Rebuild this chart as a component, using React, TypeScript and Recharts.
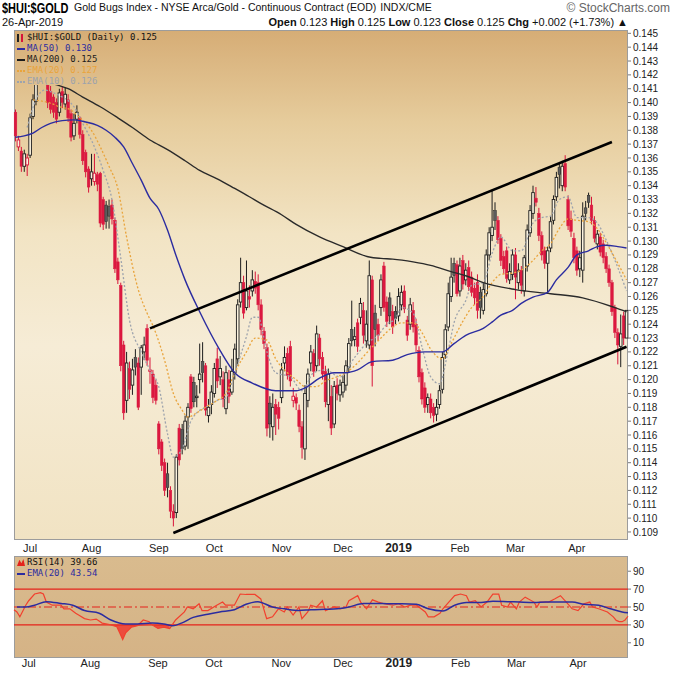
import React from 'react';
import { ComposedChart, Bar, Line, Area, XAxis, YAxis, ReferenceLine } from 'recharts';

// daily bars, late Jun 2018 .. 26-Apr-2019 ($HUI:$GOLD ratio)
const opens = [
  0.1393, 0.1368, 0.1365, 0.1354, 0.1355, 0.1362, 0.1390, 0.1401, 0.1420, 0.1428,
  0.1432, 0.1414, 0.1408, 0.1404, 0.1400, 0.1393, 0.1408, 0.1399, 0.1402, 0.1392,
  0.1376, 0.1388, 0.1389, 0.1377, 0.1364, 0.1352, 0.1345, 0.1343, 0.1348, 0.1349,
  0.1330, 0.1326, 0.1325, 0.1326, 0.1315, 0.1285, 0.1268, 0.1225, 0.1185, 0.1208,
  0.1196, 0.1216, 0.1212, 0.1209, 0.1220, 0.1237, 0.1206, 0.1204, 0.1196, 0.1168,
  0.1155, 0.1140, 0.1132, 0.1120, 0.1105, 0.1104, 0.1165, 0.1164, 0.1152, 0.1173,
  0.1202, 0.1198, 0.1187, 0.1200, 0.1213, 0.1210, 0.1174, 0.1182, 0.1190, 0.1215,
  0.1202, 0.1200, 0.1179, 0.1200, 0.1191, 0.1205, 0.1215, 0.1256, 0.1270, 0.1252,
  0.1260, 0.1264, 0.1271, 0.1270, 0.1254, 0.1235, 0.1223, 0.1183, 0.1166, 0.1182,
  0.1180, 0.1187, 0.1212, 0.1219, 0.1224, 0.1185, 0.1187, 0.1178, 0.1166, 0.1150,
  0.1185, 0.1212, 0.1219, 0.1210, 0.1230, 0.1216, 0.1206, 0.1182, 0.1188, 0.1168,
  0.1196, 0.1189, 0.1191, 0.1196, 0.1209, 0.1236, 0.1229, 0.1241, 0.1245, 0.1250,
  0.1228, 0.1225, 0.1272, 0.1248, 0.1240, 0.1252, 0.1282, 0.1256, 0.1259, 0.1249,
  0.1249, 0.1246, 0.1254, 0.1264, 0.1243, 0.1240, 0.1250, 0.1240, 0.1221, 0.1205,
  0.1194, 0.1182, 0.1186, 0.1180, 0.1175, 0.1182, 0.1193, 0.1218, 0.1238, 0.1260,
  0.1284, 0.1283, 0.1264, 0.1286, 0.1272, 0.1281, 0.1274, 0.1266, 0.1270, 0.1263,
  0.1250, 0.1262, 0.1290, 0.1304, 0.1322, 0.1315, 0.1302, 0.1289, 0.1293, 0.1272,
  0.1276, 0.1290, 0.1270, 0.1279, 0.1264, 0.1282, 0.1306, 0.1320, 0.1331, 0.1320,
  0.1304, 0.1293, 0.1284, 0.1295, 0.1315, 0.1332, 0.1353, 0.1340, 0.1356, 0.1330,
  0.1316, 0.1302, 0.1293, 0.1280, 0.1279, 0.1324, 0.1333, 0.1326, 0.1315, 0.1298,
  0.1303, 0.1298, 0.1289, 0.1280, 0.1270, 0.1252, 0.1234, 0.1224, 0.1246, 0.1230,
];
const highs = [
  0.1395, 0.1376, 0.1368, 0.1366, 0.1363, 0.1392, 0.1406, 0.1416, 0.1432, 0.1440,
  0.1436, 0.1416, 0.1412, 0.1406, 0.1403, 0.1410, 0.1412, 0.1411, 0.1406, 0.1395,
  0.1392, 0.1398, 0.1390, 0.1380, 0.1366, 0.1354, 0.1363, 0.1363, 0.1350, 0.1350,
  0.1332, 0.1329, 0.1330, 0.1330, 0.1317, 0.1288, 0.1270, 0.1228, 0.1220, 0.1213,
  0.1215, 0.1222, 0.1216, 0.1225, 0.1231, 0.1240, 0.1216, 0.1207, 0.1200, 0.1170,
  0.1157, 0.1143, 0.1140, 0.1123, 0.1110, 0.1146, 0.1168, 0.1168, 0.1174, 0.1183,
  0.1204, 0.1202, 0.1196, 0.1226, 0.1227, 0.1212, 0.1186, 0.1196, 0.1212, 0.1223,
  0.1217, 0.1206, 0.1210, 0.1207, 0.1215, 0.1226, 0.1258, 0.1288, 0.1275, 0.1286,
  0.1268, 0.1279, 0.1278, 0.1276, 0.1258, 0.1238, 0.1226, 0.1188, 0.1190, 0.1186,
  0.1184, 0.1212, 0.1224, 0.1223, 0.1228, 0.1194, 0.1190, 0.1182, 0.1170, 0.1196,
  0.1208, 0.1225, 0.1222, 0.1239, 0.1233, 0.1220, 0.1210, 0.1208, 0.1196, 0.1199,
  0.1201, 0.1200, 0.1203, 0.1214, 0.1230, 0.1257, 0.1238, 0.1244, 0.1259, 0.1256,
  0.1250, 0.1286, 0.1275, 0.1254, 0.1244, 0.1276, 0.1285, 0.1260, 0.1263, 0.1254,
  0.1253, 0.1266, 0.1268, 0.1268, 0.1246, 0.1259, 0.1256, 0.1244, 0.1224, 0.1208,
  0.1198, 0.1190, 0.1190, 0.1183, 0.1186, 0.1196, 0.1220, 0.1240, 0.1270, 0.1288,
  0.1288, 0.1286, 0.1288, 0.1290, 0.1284, 0.1286, 0.1278, 0.1270, 0.1276, 0.1267,
  0.1270, 0.1294, 0.1310, 0.1337, 0.1328, 0.1318, 0.1305, 0.1293, 0.1296, 0.1284,
  0.1294, 0.1295, 0.1284, 0.1282, 0.1290, 0.1312, 0.1326, 0.1340, 0.1339, 0.1324,
  0.1307, 0.1296, 0.1296, 0.1318, 0.1333, 0.1350, 0.1356, 0.1358, 0.1362, 0.1333,
  0.1322, 0.1306, 0.1296, 0.1293, 0.1328, 0.1329, 0.1335, 0.1332, 0.1318, 0.1308,
  0.1306, 0.1301, 0.1292, 0.1283, 0.1272, 0.1254, 0.1237, 0.1247, 0.1249, 0.1250,
];
const lows = [
  0.1372, 0.1365, 0.1350, 0.1350, 0.1347, 0.1360, 0.1388, 0.1398, 0.1418, 0.1424,
  0.1419, 0.1396, 0.1392, 0.1389, 0.1385, 0.1390, 0.1396, 0.1395, 0.1386, 0.1372,
  0.1373, 0.1385, 0.1374, 0.1355, 0.1346, 0.1335, 0.1340, 0.1340, 0.1336, 0.1310,
  0.1308, 0.1309, 0.1309, 0.1312, 0.1277, 0.1269, 0.1206, 0.1171, 0.1176, 0.1186,
  0.1189, 0.1203, 0.1178, 0.1189, 0.1214, 0.1210, 0.1197, 0.1183, 0.1182, 0.1146,
  0.1134, 0.1116, 0.1115, 0.1100, 0.1094, 0.1100, 0.1138, 0.1146, 0.1149, 0.1150,
  0.1176, 0.1180, 0.1180, 0.1190, 0.1198, 0.1174, 0.1169, 0.1175, 0.1187, 0.1194,
  0.1196, 0.1180, 0.1175, 0.1183, 0.1189, 0.1200, 0.1210, 0.1252, 0.1244, 0.1250,
  0.1252, 0.1260, 0.1262, 0.1250, 0.1232, 0.1222, 0.1159, 0.1158, 0.1156, 0.1160,
  0.1164, 0.1183, 0.1206, 0.1200, 0.1195, 0.1180, 0.1178, 0.1162, 0.1143, 0.1142,
  0.1180, 0.1206, 0.1202, 0.1206, 0.1210, 0.1200, 0.1180, 0.1170, 0.1160, 0.1165,
  0.1185, 0.1184, 0.1187, 0.1192, 0.1205, 0.1224, 0.1224, 0.1220, 0.1240, 0.1226,
  0.1223, 0.1222, 0.1195, 0.1224, 0.1228, 0.1246, 0.1249, 0.1238, 0.1240, 0.1233,
  0.1240, 0.1242, 0.1250, 0.1248, 0.1228, 0.1236, 0.1234, 0.1220, 0.1198, 0.1182,
  0.1176, 0.1176, 0.1172, 0.1169, 0.1170, 0.1179, 0.1190, 0.1215, 0.1235, 0.1256,
  0.1270, 0.1260, 0.1260, 0.1265, 0.1268, 0.1264, 0.1260, 0.1254, 0.1244, 0.1244,
  0.1247, 0.1260, 0.1286, 0.1300, 0.1308, 0.1298, 0.1282, 0.1276, 0.1270, 0.1269,
  0.1272, 0.1258, 0.1265, 0.1262, 0.1260, 0.1278, 0.1303, 0.1316, 0.1325, 0.1300,
  0.1286, 0.1280, 0.1262, 0.1292, 0.1312, 0.1329, 0.1338, 0.1336, 0.1336, 0.1308,
  0.1303, 0.1284, 0.1275, 0.1274, 0.1270, 0.1315, 0.1324, 0.1312, 0.1299, 0.1294,
  0.1289, 0.1284, 0.1277, 0.1267, 0.1246, 0.1230, 0.1211, 0.1209, 0.1225, 0.1230,
];
const closes = [
  0.1376, 0.1373, 0.1354, 0.1363, 0.1360, 0.1389, 0.1402, 0.1413, 0.1428, 0.1434,
  0.1422, 0.1400, 0.1395, 0.1393, 0.1388, 0.1407, 0.1400, 0.1406, 0.1389, 0.1375,
  0.1385, 0.1393, 0.1377, 0.1358, 0.1350, 0.1339, 0.1350, 0.1349, 0.1341, 0.1313,
  0.1312, 0.1314, 0.1318, 0.1316, 0.1280, 0.1272, 0.1210, 0.1176, 0.1212, 0.1193,
  0.1207, 0.1209, 0.1180, 0.1223, 0.1225, 0.1214, 0.1207, 0.1187, 0.1185, 0.1150,
  0.1138, 0.1120, 0.1122, 0.1105, 0.1100, 0.1144, 0.1142, 0.1150, 0.1170, 0.1180,
  0.1179, 0.1184, 0.1188, 0.1204, 0.1205, 0.1178, 0.1180, 0.1191, 0.1208, 0.1199,
  0.1208, 0.1186, 0.1205, 0.1188, 0.1206, 0.1222, 0.1254, 0.1270, 0.1248, 0.1264,
  0.1258, 0.1272, 0.1266, 0.1254, 0.1236, 0.1226, 0.1165, 0.1168, 0.1180, 0.1175,
  0.1172, 0.1207, 0.1216, 0.1203, 0.1199, 0.1188, 0.1183, 0.1166, 0.1151, 0.1190,
  0.1204, 0.1220, 0.1206, 0.1233, 0.1215, 0.1204, 0.1184, 0.1204, 0.1165, 0.1195,
  0.1190, 0.1196, 0.1198, 0.1210, 0.1226, 0.1228, 0.1231, 0.1224, 0.1255, 0.1232,
  0.1240, 0.1275, 0.1210, 0.1236, 0.1232, 0.1272, 0.1252, 0.1242, 0.1246, 0.1238,
  0.1244, 0.1260, 0.1263, 0.1251, 0.1232, 0.1254, 0.1238, 0.1225, 0.1202, 0.1186,
  0.1180, 0.1187, 0.1176, 0.1174, 0.1180, 0.1192, 0.1216, 0.1236, 0.1262, 0.1274,
  0.1275, 0.1262, 0.1282, 0.1269, 0.1279, 0.1267, 0.1263, 0.1259, 0.1250, 0.1252,
  0.1265, 0.1290, 0.1306, 0.1310, 0.1315, 0.1301, 0.1286, 0.1280, 0.1273, 0.1278,
  0.1290, 0.1274, 0.1279, 0.1268, 0.1288, 0.1308, 0.1322, 0.1335, 0.1328, 0.1304,
  0.1290, 0.1284, 0.1293, 0.1314, 0.1330, 0.1346, 0.1348, 0.1354, 0.1339, 0.1311,
  0.1307, 0.1288, 0.1279, 0.1288, 0.1318, 0.1320, 0.1328, 0.1315, 0.1302, 0.1305,
  0.1292, 0.1288, 0.1280, 0.1270, 0.1249, 0.1234, 0.1225, 0.1233, 0.1230, 0.1250,
];

// moving averages: [bar index, value]
const ma50Points = [
  [0, 0.1375], [3, 0.1376], [6, 0.1378], [9, 0.1382], [12, 0.1385], [16, 0.1387], [20, 0.13875],
  [24, 0.1386], [28, 0.13835], [31, 0.1380], [34, 0.1375], [37, 0.1368], [40, 0.1356], [43, 0.1344],
  [46, 0.1331], [49, 0.1323], [52, 0.1308], [55, 0.1289], [58, 0.1272], [63, 0.1249], [70, 0.1221],
  [75, 0.1205], [81, 0.11975], [89, 0.1192], [96, 0.1192], [99, 0.1194], [104, 0.1201], [109, 0.1205],
  [113, 0.1205], [117, 0.1207], [122, 0.1213], [129, 0.1214], [134, 0.1218], [140, 0.1220], [146, 0.1220],
  [150, 0.1226], [154, 0.1232], [160, 0.1237], [163, 0.12415], [166, 0.12465], [170, 0.1250],
  [173, 0.1255], [177, 0.12595], [182, 0.1263], [185, 0.1272], [189, 0.1281], [192, 0.1290],
  [196, 0.1293], [199, 0.1296], [202, 0.1297], [206, 0.1296], [209, 0.1295],
];
const ma200Points = [
  [0, 0.1422], [10, 0.1415], [12, 0.1414], [18, 0.1410], [23, 0.1404], [29, 0.1397], [35, 0.1389],
  [40, 0.1382], [46, 0.1373], [52, 0.1366], [58, 0.1358], [63, 0.1351], [69, 0.1345], [75, 0.1338],
  [80, 0.1332], [84, 0.1327], [91, 0.1319], [96, 0.1312], [104, 0.1303], [112, 0.1296], [121, 0.12885],
  [125, 0.12875], [129, 0.1287], [136, 0.1285], [142, 0.12825], [149, 0.1278], [154, 0.1275],
  [160, 0.1270], [171, 0.1265], [183, 0.1262], [194, 0.1259], [205, 0.1252], [209, 0.1249],
];
const ema20Points = [
  [6, 0.1402], [12, 0.13995], [15, 0.1397], [19, 0.13945], [22, 0.1389], [26, 0.1380], [29, 0.1368],
  [32, 0.1354], [35, 0.1338], [38, 0.1303], [42, 0.1265], [45, 0.1248], [47, 0.1239], [51, 0.1214],
  [54, 0.1190], [57, 0.1178], [59, 0.1173], [62, 0.1176], [65, 0.1180], [69, 0.1185], [72, 0.1190],
  [75, 0.1205], [79, 0.1220], [82, 0.1230], [86, 0.12285], [89, 0.1215], [93, 0.1205], [96, 0.1200],
  [99, 0.1195], [103, 0.1195], [106, 0.1199], [110, 0.1202], [113, 0.1205], [117, 0.1212], [120, 0.1219],
  [125, 0.1230], [129, 0.1238], [132, 0.1241], [136, 0.1241], [139, 0.1234], [142, 0.1222], [146, 0.1215],
  [149, 0.1226], [153, 0.1242], [156, 0.1252], [160, 0.1260], [163, 0.1270], [166, 0.1276], [170, 0.1277],
  [173, 0.1279], [177, 0.1286], [180, 0.1293], [183, 0.1298], [186, 0.1309], [189, 0.1316], [192, 0.1315],
  [196, 0.1314], [199, 0.1309], [202, 0.1299], [206, 0.1284], [209, 0.1272],
];
const ema10Points = [
  [4, 0.1382], [7, 0.1402], [10, 0.1409], [13, 0.1407], [16, 0.1404], [20, 0.1397], [23, 0.1385],
  [27, 0.1368], [30, 0.1351], [33, 0.1330], [36, 0.1288], [39, 0.1243], [43, 0.1220], [46, 0.1207],
  [49, 0.1195], [52, 0.1161], [54, 0.1144], [57, 0.1150], [60, 0.1170], [62, 0.1176], [65, 0.1180],
  [69, 0.1185], [72, 0.1187], [75, 0.1205], [79, 0.1231], [81, 0.1245], [83, 0.1245], [86, 0.1220],
  [89, 0.1205], [94, 0.1202], [98, 0.1192], [102, 0.1205], [106, 0.1207], [111, 0.1202], [116, 0.1216],
  [120, 0.1226], [124, 0.1232], [127, 0.1240], [130, 0.1244], [132, 0.1252], [136, 0.1248], [139, 0.1224],
  [142, 0.1202], [145, 0.1197], [148, 0.1221], [150, 0.1241], [154, 0.1257], [156, 0.1268], [160, 0.1270],
  [163, 0.1291], [166, 0.1303], [170, 0.1293], [173, 0.1293], [177, 0.1313], [180, 0.1317], [183, 0.1318],
  [186, 0.1330], [189, 0.1332], [192, 0.1317], [196, 0.1317], [199, 0.1313], [202, 0.1301], [206, 0.1281],
  [209, 0.1264],
];

// RSI(14) and its EMA(20)
const rsiPoints = [
  [0, 47], [1, 44.5], [2, 39], [4, 52], [5, 57], [7, 64.5], [9, 66], [10, 64.5], [11, 55.5], [13, 52],
  [16, 52], [17, 48], [19, 48], [21, 43], [22, 41], [24, 37], [26, 35.5], [28, 36.5], [30, 32], [33, 30],
  [35, 28], [36, 21], [37, 13.6], [38, 21], [40, 27.5], [42, 29], [44, 35.5], [46, 33.6], [47, 30],
  [49, 26], [51, 27.5], [53, 26], [55, 35.5], [58, 44.5], [59, 50], [61, 48], [63, 53.6], [64, 46],
  [66, 46], [69, 52], [71, 55.5], [72, 52], [75, 52], [77, 64.5], [79, 64], [82, 64], [84, 59], [86, 37],
  [88, 39], [90, 48], [92, 44.5], [93, 50], [95, 41], [97, 50], [98, 37], [100, 44.5], [101, 52],
  [103, 50], [105, 57], [106, 46], [109, 50], [111, 48], [113, 50], [114, 57], [117, 62.7], [118, 55.5],
  [120, 48], [122, 58], [124, 55.5], [126, 53.6], [129, 52], [131, 53.6], [133, 50], [135, 52],
  [137, 52], [140, 44.5], [141, 39], [143, 39], [145, 43], [146, 48], [148, 55.5], [150, 62.7],
  [152, 64.5], [154, 62.7], [155, 55.5], [157, 57], [159, 50], [161, 55.5], [163, 64.5], [165, 64.5],
  [166, 52], [168, 50], [169, 55.5], [171, 48], [172, 55.5], [174, 61], [177, 55.5], [178, 50],
  [179, 55.5], [182, 55.5], [184, 59], [186, 62.7], [188, 55.5], [190, 48], [192, 46], [194, 53.6],
  [196, 55.5], [197, 50], [199, 48], [202, 44.5], [204, 39], [205, 35], [206, 33.6], [207, 33.6],
  [208, 35.5], [209, 39.66],
];
const rsiEmaPoints = [
  [1, 50], [4, 50], [7, 52], [11, 56], [16, 54], [20, 52], [24, 46], [29, 43], [33, 35.5], [38, 31],
  [42, 31], [47, 32], [51, 31], [54, 29], [57, 32], [61, 38.4], [66, 42], [70, 44.5], [75, 47], [79, 53],
  [83, 56], [88, 50], [92, 48], [97, 46], [101, 47], [106, 47.5], [110, 48], [114, 50], [119, 54],
  [123, 54], [128, 53.6], [132, 53.6], [137, 53], [141, 48], [146, 45.6], [150, 52], [154, 55],
  [159, 55], [163, 56.5], [168, 56], [172, 55.5], [177, 55], [181, 55.5], [185, 55.5], [190, 55.5],
  [194, 53], [199, 52], [203, 48], [207, 44.5], [209, 43.54],
];

const monthTicks = [5, 26, 49, 68, 91, 112, 131, 152, 171, 192];
const monthLabels = ['Jul', 'Aug', 'Sep', 'Oct', 'Nov', 'Dec', '2019', 'Feb', 'Mar', 'Apr'];
const priceTicks = [
  0.109, 0.11, 0.111, 0.112, 0.113, 0.114, 0.115, 0.116, 0.117, 0.118, 0.119, 0.12, 0.121,
  0.122, 0.123, 0.124, 0.125, 0.126, 0.127, 0.128, 0.129, 0.13, 0.131, 0.132, 0.133, 0.134,
  0.135, 0.136, 0.137, 0.138, 0.139, 0.14, 0.141, 0.142, 0.143, 0.144, 0.145,
];
const rsiTicks = [10, 30, 50, 70, 90];

// hand-drawn trend channel: [bar index, price]
const upperChannel = [[46, 0.1237], [204, 0.13715]];
const lowerChannel = [[54, 0.10892], [209, 0.12237]];

const FONT = '"Liberation Sans", Arial, sans-serif';
const MONO = '"DejaVu Sans Mono", monospace';
const MAIN_BG = 'linear-gradient(180deg, #d6ad76 0%, #e6cc9c 18%, #f2e4c4 40%, #f6ecd6 62%, #f1e3c3 100%)';
const RSI_BG = 'linear-gradient(180deg, #d9bb8e 0%, #d5b386 100%)';

type Row = Record<string, any>;

const rows: Row[] = closes.map((close, i) => ({
  i,
  open: opens[i],
  high: highs[i],
  low: lows[i],
  close,
  prev: i > 0 ? closes[i - 1] : opens[i],
  hl: [lows[i], highs[i]],
  ma50: null,
  ma200: null,
  ema20: null,
  ema10: null,
}));
const put = (target: Row[], pts: number[][], key: string) => {
  pts.forEach(([i, v]) => {
    target[i][key] = v;
  });
};
put(rows, ma50Points, 'ma50');
put(rows, ma200Points, 'ma200');
put(rows, ema20Points, 'ema20');
put(rows, ema10Points, 'ema10');

const rsiRows: Row[] = closes.map((_, i) => ({ i, rsi: null, rsiEma: null, oversold: null }));
put(rsiRows, rsiPoints, 'rsi');
put(rsiRows, rsiEmaPoints, 'rsiEma');
rsiRows.forEach((r) => {
  if (r.rsi !== null && r.rsi <= 30) r.oversold = [r.rsi, 30];
});

function Candle(props: any) {
  const { x, y, width, height, payload } = props;
  if (!payload || x == null) return null;
  const { open, close, high, low, prev } = payload;
  const top = height < 0 ? y + height : y;
  const h = Math.abs(height);
  const k = h / Math.max(high - low, 1e-9);
  const yO = top + (high - open) * k;
  const yC = top + (high - close) * k;
  const cx = x + width / 2;
  const red = close < prev;
  const filled = close < open;
  const color = red ? '#d8143a' : '#1c1c1c';
  const bw = 2.6;
  const bTop = Math.min(yO, yC);
  const bH = Math.max(Math.abs(yC - yO), 1);
  return (
    <g>
      <line x1={cx} x2={cx} y1={top} y2={bTop} stroke={color} strokeWidth={1} />
      <line x1={cx} x2={cx} y1={bTop + bH} y2={top + h} stroke={color} strokeWidth={1} />
      {filled ? (
        <rect x={cx - bw / 2} y={bTop} width={bw} height={bH} fill={red ? '#dc1840' : '#5c5c5c'} stroke={color} strokeWidth={0.5} />
      ) : (
        <rect x={cx - bw / 2} y={bTop} width={bw} height={bH} fill="#fbf3df" stroke={color} strokeWidth={0.9} />
      )}
    </g>
  );
}

function MonthTick(props: any) {
  const { x, y, payload, dyText } = props;
  const label = monthLabels[monthTicks.indexOf(payload.value)];
  const bold = label === '2019';
  return (
    <text x={x} y={y + dyText} textAnchor="middle" fontSize={bold ? 12 : 11} fontWeight={bold ? 'bold' : 'normal'} fill="#222" fontFamily={FONT}>
      {label}
    </text>
  );
}

const legendRow = (color: string, text: string, dotted = false) => (
  <div style={{ display: 'flex', alignItems: 'center', height: 11, color, whiteSpace: 'nowrap' }}>
    <span style={{ display: 'inline-block', width: 8, marginRight: 2, borderTop: `2px ${dotted ? 'dotted' : 'solid'} ${color}` }} />
    {text}
  </div>
);

export default function App() {
  const yTick = { fontSize: 10, fill: '#222', fontFamily: FONT };
  return (
    <div style={{ position: 'absolute', left: 0, top: 0, width: 673, height: 673, background: '#fff', fontFamily: FONT, overflow: 'hidden' }}>
      {/* header */}
      <div style={{ position: 'absolute', left: 2, top: 0, height: 15, whiteSpace: 'nowrap', display: 'flex', alignItems: 'center' }}>
        <span style={{ fontSize: 15, lineHeight: '15px', fontWeight: 'bold', display: 'inline-block', transform: 'scaleX(0.73)', transformOrigin: 'left', width: 72 }}>$HUI:$GOLD</span>
        <span style={{ fontSize: 10.5, lineHeight: '15px', color: '#111' }}>Gold Bugs Index - NYSE Arca/Gold - Continuous Contract (EOD)</span>
        <span style={{ fontSize: 10.5, lineHeight: '15px', color: '#111', marginLeft: 4 }}>INDX/CME</span>
      </div>
      <div style={{ position: 'absolute', right: 3, top: 1, fontSize: 12, lineHeight: '14px', color: '#666' }}>© StockCharts.com</div>
      <div style={{ position: 'absolute', left: 2, top: 16, fontSize: 11, lineHeight: '13px', color: '#111' }}>26-Apr-2019</div>
      <div style={{ position: 'absolute', right: 45, top: 16, fontSize: 11, lineHeight: '13px', color: '#111', whiteSpace: 'nowrap' }}>
        <b>Open</b> 0.123 <b>High</b> 0.125 <b>Low</b> 0.123 <b>Close</b> 0.125 <b>Chg</b> +0.002 (+1.73%) ▲
      </div>

      {/* panel backgrounds */}
      <div style={{ position: 'absolute', left: 14, top: 30, width: 614, height: 510, boxSizing: 'border-box', border: '1px solid #9c9c9c', background: MAIN_BG }} />
      <div style={{ position: 'absolute', left: 14, top: 556, width: 614, height: 102, boxSizing: 'border-box', border: '1px solid #9c9c9c', background: RSI_BG }} />

      {/* price panel */}
      <div style={{ position: 'absolute', left: 0, top: 0 }}>
        <ComposedChart width={673} height={556} data={rows} margin={{ top: 30, right: 0, bottom: 0, left: 14 }} barCategoryGap={0} barGap={0}>
          <XAxis dataKey="i" type="category" ticks={monthTicks} interval={0} tickLine={false} axisLine={false} tickSize={0} height={16} tick={(p: any) => <MonthTick {...p} dyText={10} />} />
          <YAxis orientation="right" width={45} domain={[0.10842, 0.14524]} allowDataOverflow ticks={priceTicks} interval={0} tickFormatter={(v: number) => v.toFixed(3)} tick={yTick} tickSize={3} tickLine={{ stroke: '#777' }} axisLine={false} />
          <Bar dataKey="hl" shape={<Candle />} isAnimationActive={false} />
          <Line dataKey="ema10" type="monotone" stroke="#9da3ad" strokeWidth={1.3} strokeDasharray="2 2" dot={false} connectNulls isAnimationActive={false} />
          <Line dataKey="ema20" type="monotone" stroke="#e9a43c" strokeWidth={1.3} strokeDasharray="2 2" dot={false} connectNulls isAnimationActive={false} />
          <Line dataKey="ma200" type="monotone" stroke="#2a2a2a" strokeWidth={1.4} dot={false} connectNulls isAnimationActive={false} />
          <Line dataKey="ma50" type="monotone" stroke="#2b2ca0" strokeWidth={1.4} dot={false} connectNulls isAnimationActive={false} />
          <ReferenceLine segment={upperChannel.map(([x, y]) => ({ x, y }))} stroke="#000" strokeWidth={2.6} ifOverflow="visible" />
          <ReferenceLine segment={lowerChannel.map(([x, y]) => ({ x, y }))} stroke="#000" strokeWidth={2.6} ifOverflow="visible" />
        </ComposedChart>
      </div>

      {/* price legend (opaque, like the original) */}
      <div style={{ position: 'absolute', left: 15, top: 31, width: 148, height: 54, background: MAIN_BG, backgroundSize: '612px 508px', backgroundPosition: '0 0', fontFamily: MONO, fontSize: 9, lineHeight: '11px', paddingLeft: 2, paddingTop: 1, boxSizing: 'border-box' }}>
        <div style={{ display: 'flex', alignItems: 'center', height: 11, color: '#111', whiteSpace: 'nowrap' }}>
          <span style={{ display: 'inline-block', width: 6, height: 8, marginRight: 4, borderLeft: '2px solid #222', borderRight: '2px solid #d8143a', boxSizing: 'border-box' }} />
          $HUI:$GOLD (Daily) 0.125
        </div>
        {legendRow('#2b2ca0', 'MA(50) 0.130')}
        {legendRow('#1c1c1c', 'MA(200) 0.125')}
        {legendRow('#e9a43c', 'EMA(20) 0.127', true)}
        {legendRow('#9da3ad', 'EMA(10) 0.126', true)}
      </div>

      {/* RSI panel */}
      <div style={{ position: 'absolute', left: 0, top: 556 }}>
        <ComposedChart width={673} height={118} data={rsiRows} margin={{ top: 0, right: 0, bottom: 0, left: 14 }}>
          <XAxis dataKey="i" type="category" ticks={monthTicks} interval={0} tickLine={false} axisLine={false} tickSize={0} height={16} tick={(p: any) => <MonthTick {...p} dyText={7} />} />
          <YAxis orientation="right" width={45} domain={[-7, 107]} allowDataOverflow ticks={rsiTicks} interval={0} tick={yTick} tickSize={3} tickLine={{ stroke: '#777' }} axisLine={false} />
          <ReferenceLine y={70} stroke="#e5231b" strokeWidth={1.2} />
          <ReferenceLine y={30} stroke="#e5231b" strokeWidth={1.2} />
          <ReferenceLine y={50} stroke="#e5231b" strokeWidth={1.2} strokeDasharray="8 3 2 3" />
          <Area dataKey="oversold" type="linear" fill="#f03a30" fillOpacity={0.85} stroke="none" connectNulls isAnimationActive={false} />
          <Line dataKey="rsi" type="linear" stroke="#f2402e" strokeWidth={1.2} dot={false} connectNulls isAnimationActive={false} />
          <Line dataKey="rsiEma" type="monotone" stroke="#2b2ca0" strokeWidth={1.5} dot={false} connectNulls isAnimationActive={false} />
        </ComposedChart>
      </div>
      <div style={{ position: 'absolute', left: 17, top: 557, fontFamily: MONO, fontSize: 9, lineHeight: '11px' }}>
        <div style={{ display: 'flex', alignItems: 'center', color: '#111', height: 11, whiteSpace: 'nowrap' }}>
          <span style={{ display: 'inline-block', width: 8, height: 7, marginRight: 2, background: '#e5231b', clipPath: 'polygon(0 100%, 30% 10%, 55% 60%, 80% 0, 100% 100%)' }} />
          RSI(14) 39.66
        </div>
        {legendRow('#2b2ca0', 'EMA(20) 43.54')}
      </div>
    </div>
  );
}
